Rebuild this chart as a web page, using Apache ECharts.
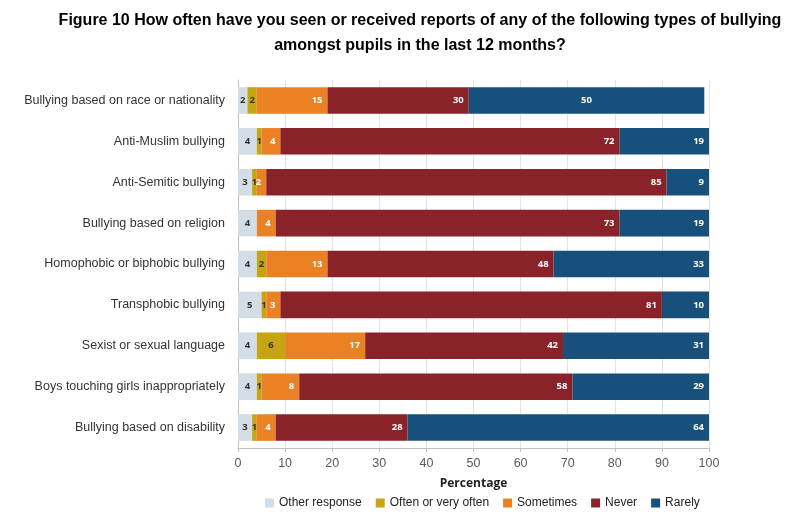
<!DOCTYPE html>
<html>
<head>
<meta charset="utf-8">
<script src="https://cdn.jsdelivr.net/npm/echarts@6/dist/echarts.min.js"></script>
<style>
  html, body { margin: 0; padding: 0; background: #fff; }
  #chart { width: 794px; height: 514px; }
</style>
</head>
<body>
<div id="chart"></div>
<script>
const categories = [
  "Bullying based on race or nationality",
  "Anti-Muslim bullying",
  "Anti-Semitic bullying",
  "Bullying based on religion",
  "Homophobic or biphobic bullying",
  "Transphobic bullying",
  "Sexist or sexual language",
  "Boys touching girls inappropriately",
  "Bullying based on disability"
];
const otherResponse = [2, 4, 3, 4, 4, 5, 4, 4, 3];
const oftenOrVeryOften = [2, 1, 1, 0, 2, 1, 6, 1, 1];
const sometimes = [15, 4, 2, 4, 13, 3, 17, 8, 4];
const never = [30, 72, 85, 73, 48, 81, 42, 58, 28];
const rarely = [50, 19, 9, 19, 33, 10, 31, 29, 64];
const xTicks = { min: 0, max: 100, interval: 10 };

let chartDom = document.getElementById("chart");
let myChart = echarts.init(chartDom);
let option;

const hideZero = p => (p.value ? String(p.value) : "");

function makeSeries(name, data, color, labelColor, position) {
  return {
    name: name,
    type: "bar",
    stack: "total",
    barCategoryGap: "35%",
    data: data,
    itemStyle: { color: color },
    label: {
      show: true,
      position: position,
      formatter: hideZero,
      color: labelColor,
      fontSize: 9.5,
      fontWeight: "bold",
      fontFamily: "Open Sans"
    }
  };
}

// the first "Rarely" label sits in the middle of its bar
const rarelyData = rarely.map((v, i) =>
  i === 0 ? { value: v, label: { position: "inside" } } : v
);

option = {
  animation: false,
  title: {
    text: "Figure 10 How often have you seen or received reports of any of the following types of bullying\namongst pupils in the last 12 months?",
    left: 415,
    top: 3,
    textAlign: "center",
    textStyle: {
      fontFamily: "Liberation Sans",
      fontSize: 16,
      fontWeight: "bold",
      color: "#000",
      lineHeight: 25
    }
  },
  legend: {
    bottom: 0,
    left: 260,
    icon: "rect",
    itemWidth: 9,
    itemHeight: 9,
    itemGap: 14,
    textStyle: { fontSize: 12, color: "#222", fontFamily: "Liberation Sans" },
    data: ["Other response", "Often or very often", "Sometimes", "Never", "Rarely"]
  },
  grid: {
    left: 238,
    right: 85,
    top: 80,
    bottom: 66
  },
  xAxis: {
    type: "value",
    min: xTicks.min,
    max: xTicks.max,
    interval: xTicks.interval,
    name: "Percentage",
    nameLocation: "middle",
    nameGap: 30,
    nameTextStyle: { fontWeight: "bold", fontSize: 12, color: "#222", fontFamily: "Open Sans" },
    axisLine: { show: true, lineStyle: { color: "#bfbfbf" } },
    axisTick: { show: true, length: 4, lineStyle: { color: "#bfbfbf" } },
    axisLabel: { fontSize: 12.5, color: "#595959", margin: 9, fontFamily: "Liberation Sans" },
    splitLine: { lineStyle: { color: "#e3e3e3" } }
  },
  yAxis: {
    type: "category",
    inverse: true,
    data: categories,
    axisLine: { lineStyle: { color: "#bfbfbf" } },
    axisTick: { length: 5, lineStyle: { color: "#bfbfbf" } },
    axisLabel: { fontSize: 12.5, color: "#333", margin: 13, fontFamily: "Liberation Sans" }
  },
  series: [
    makeSeries("Other response", otherResponse, "#d3dde6", "#333", "inside"),
    makeSeries("Often or very often", oftenOrVeryOften, "#c6a412", "#333", "inside"),
    makeSeries("Sometimes", sometimes, "#ea8124", "#fff", "insideRight"),
    makeSeries("Never", never, "#8a2329", "#fff", "insideRight"),
    makeSeries("Rarely", rarelyData, "#17507a", "#fff", "insideRight")
  ]
};

option && myChart.setOption(option);
</script>
</body>
</html>
